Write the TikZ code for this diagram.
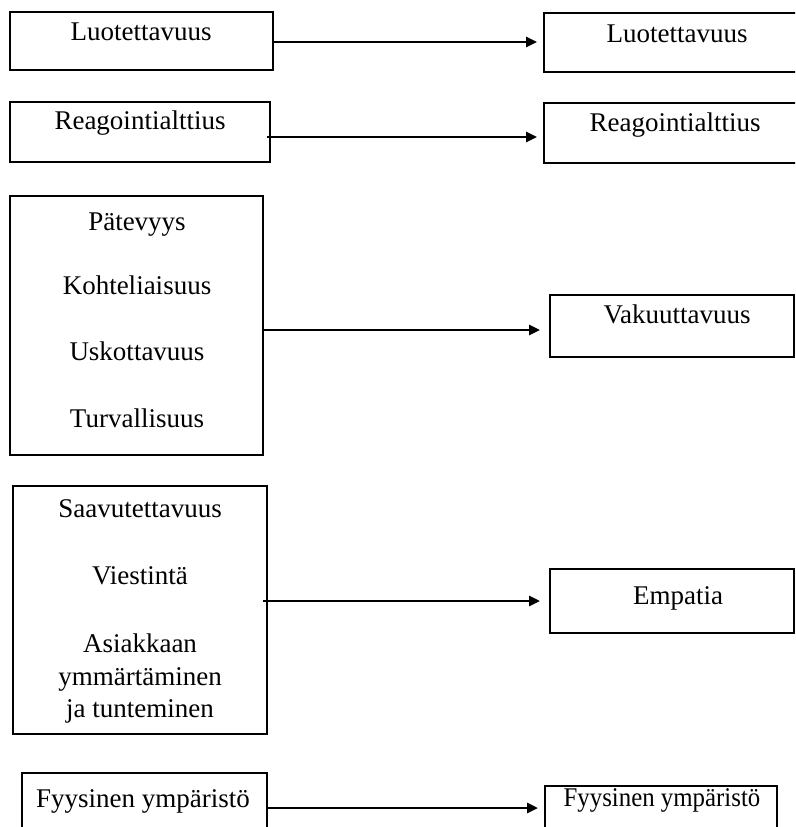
\documentclass[tikz,border=0pt]{standalone}
\usepackage{fontspec}
\usepackage{graphicx}
\setmainfont{Liberation Serif}
\usetikzlibrary{arrows.meta}
\begin{document}
\begin{tikzpicture}[x=1pt,y=-1pt,
  box/.style={draw=black,line width=1.6pt,inner sep=0pt,outer sep=0pt},
  txt/.style={inner sep=0pt,anchor=base,font=\fontsize{27}{31}\selectfont},
  arr/.style={line width=2.6pt,-{Triangle[length=11pt,width=10pt]},shorten >=7pt}]
\clip (0,0) rectangle (795,827);
\fill[white] (0,0) rectangle (795,827);
% left boxes
\node[box,minimum width=263pt,minimum height=58pt] (L1) at (141.5,41) {};
\node[box,minimum width=260pt,minimum height=60pt] (L2) at (140,132) {};
\node[box,minimum width=253pt,minimum height=259pt] (L3) at (136.5,325.5) {};
\node[box,minimum width=254pt,minimum height=248pt] (L4) at (140,610) {};
\node[box,minimum width=245pt,minimum height=70pt] (L5) at (144.5,808) {};
% right boxes
\node[box,minimum width=262pt,minimum height=59pt] (R1) at (675,42.5) {};
\node[box,minimum width=262pt,minimum height=60pt] (R2) at (675,133) {};
\node[box,minimum width=244pt,minimum height=62pt] (R3) at (672,326) {};
\node[box,minimum width=244pt,minimum height=64pt] (R4) at (672,601) {};
\node[box,minimum width=232pt,minimum height=60pt] (R5) at (661,816) {};
% texts
\node[txt] (tL1) at (141,40) {Luotettavuus};
\node[txt] (tL2) at (140,129) {Reagointialttius};
\node[txt] (tL3a) at (137,230) {Pätevyys};
\node[txt] (tL3b) at (137,294) {Kohteliaisuus};
\node[txt] (tL3c) at (137,360) {Uskottavuus};
\node[txt] (tL3d) at (137,427) {Turvallisuus};
\node[txt] (tL4a) at (140,517) {Saavutettavuus};
\node[txt] (tL4b) at (140,584) {Viestintä};
\node[txt] (tL4c) at (140,652) {Asiakkaan};
\node[txt] (tL4d) at (140,685) {ymmärtäminen};
\node[txt] (tL4e) at (140,717) {ja tunteminen};
\node[txt] (tL5) at (143,807) {Fyysinen ympäristö};
\node[txt] (tR1) at (677,42) {Luotettavuus};
\node[txt] (tR2) at (675,131) {Reagointialttius};
\node[txt] (tR3) at (677,323) {Vakuuttavuus};
\node[txt] (tR4) at (678,604) {Empatia};
\node[txt] (tR5) at (662,806) {\scalebox{0.92}[1]{Fyysinen ympäristö}};
% arrow levels
\coordinate (y1) at (0,42);
\coordinate (y2) at (0,137);
\coordinate (y3) at (0,330);
\coordinate (y4) at (0,601);
\coordinate (y5) at (0,808);
\draw[arr] (L1.east |- y1) -- (R1.west |- y1);
\draw[arr] ([xshift=-3pt]L2.east |- y2) -- (R2.west |- y2);
\draw[arr] (L3.east |- y3) -- ([xshift=-3pt]R3.west |- y3);
\draw[arr] ([xshift=-4pt]L4.east |- y4) -- ([xshift=-3pt]R4.west |- y4);
\draw[arr] (L5.east |- y5) -- (R5.west |- y5);
\end{tikzpicture}
\end{document}
